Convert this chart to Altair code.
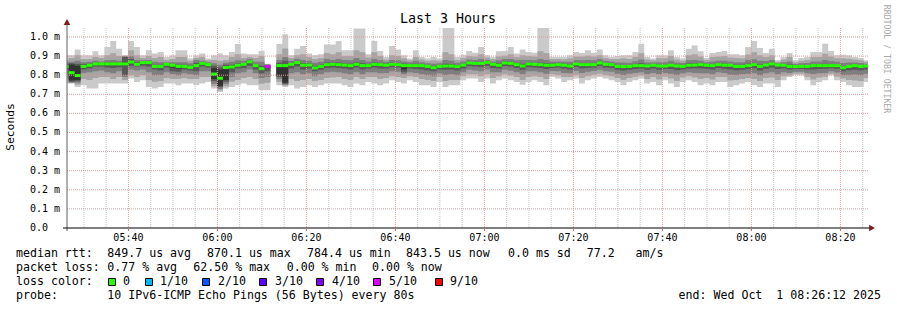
import altair as alt
import pandas as pd

# ---------------- data (values in microseconds, one entry per 80 s step) ----------------
# sorted ping percentiles per step: p1 (min) ... p10 (max); None = no data
p10 = [904,904,935,904,904,925,904,948,979,939, 904,979,948,904,930,913,921,895,904,930,
       930,887,904,913,887,904,913,904,921,963, 913,909,909,927,860,None,963,1014,904,939,
       953,913,904,909,960,960,979,930,930,1044, 1044,909,979,927,895,953,934,904,887,930,
       895,887,895,887,1047,1047,895,907,927,918, 948,904,895,925,927,948,913,934,921,918,
       1047,1047,895,895,895,904,921,916,930,918, 935,904,895,900,904,904,921,965,895,887,
       904,904,930,895,887,939,956,925,890,916, 921,927,909,909,904,948,979,942,916,939,
       878,895,916,878,890,895,921,921,965,927, 904,907,904,895,890,878]
p9 = [880,890,905,885,885,895,890,905,915,900, 902,930,905,890,900,890,895,880,885,895,
      895,875,890,895,878,880,875,880,895,910, 890,895,890,900,858,None,910,940,890,905,
      910,895,885,890,915,910,920,900,900,930, 920,893,920,900,882,905,900,888,878,895,
      882,875,878,875,920,910,880,890,900,898, 910,892,885,898,902,910,895,905,900,898,
      925,915,885,885,883,888,898,898,902,898, 905,890,885,885,888,885,895,915,882,878,
      888,888,900,882,876,905,910,898,880,895, 898,900,892,890,888,908,920,905,895,905,
      870,882,895,868,876,880,895,895,912,898, 888,888,886,882,878,870]
p8 = [866,870,875,868,870,875,872,878,880,875, 900,900,880,878,880,870,868,868,868,868,
      868,862,880,875,868,862,855,865,870,878, 875,885,870,870,856,None,880,895,875,885,
      880,875,865,870,885,880,885,880,878,890, 880,872,885,878,870,880,878,872,868,875,
      868,862,860,862,880,875,865,872,882,880, 885,880,872,878,885,885,878,880,880,878,
      885,880,872,872,870,870,880,878,880,878, 885,875,872,866,866,865,873,882,866,866,
      868,868,875,866,864,878,880,876,868,872, 876,876,872,868,868,880,884,876,874,880,
      862,868,872,858,862,864,872,872,880,874, 870,864,866,866,864,860]
p7 = [858,862,860,858,860,865,864,866,866,865, 895,885,868,870,870,855,855,862,858,855,
      854,850,865,866,860,850,840,855,855,862, 864,875,858,850,850,None,865,875,865,872,
      862,862,850,856,866,865,866,862,860,868, 862,858,866,864,860,866,864,860,858,860,
      857,852,848,852,860,858,853,860,870,868, 870,872,862,862,872,870,864,860,866,864,
      865,862,860,862,860,857,866,863,864,863, 870,863,862,853,852,853,858,862,855,857,
      855,855,860,855,852,862,863,862,858,858, 862,860,859,854,854,860,864,856,860,866,
      857,858,856,850,852,853,858,858,860,858, 857,848,853,855,852,852]
p6 = [850,856,850,850,855,861,861,861,861,861, 865,872,860,868,868,849,849,859,854,849,
      849,843,853,864,857,838,830,848,846,855, 859,872,852,837,847,None,852,852,859,868,
      855,856,841,849,858,860,858,856,853,860, 853,852,859,858,854,859,858,853,852,852,
      852,848,841,848,850,850,847,855,866,864, 864,869,859,854,866,864,857,850,861,859,
      857,854,854,857,854,850,861,857,857,857, 866,859,857,848,847,848,852,852,850,854,
      850,850,854,850,848,854,856,857,854,852, 857,854,854,848,848,852,857,848,855,861,
      855,854,848,847,848,848,852,852,852,852, 852,841,848,852,848,850]
p5 = [842,772,775,842,848,856,856,856,856,856, 852,865,854,862,862,843,843,855,840,835,
      843,838,845,860,852,780,745,775,835,848, 853,866,846,830,843,None,800,760,854,862,
      848,850,835,843,852,854,852,850,847,854, 847,847,854,852,849,854,852,830,847,847,
      847,843,836,843,845,845,842,850,861,859, 859,864,854,849,861,859,852,845,856,854,
      852,849,849,852,849,845,856,852,852,852, 861,854,852,843,842,843,847,847,845,849,
      845,845,849,845,843,849,850,852,849,847, 852,849,849,843,843,847,852,843,850,856,
      850,849,843,842,843,843,847,847,847,847, 847,836,843,847,843,845]
p4 = [830,766,768,830,835,845,845,840,838,842, 800,850,845,850,845,830,825,840,820,818,
      830,825,820,845,840,770,738,765,815,835, 838,850,830,810,820,None,790,755,835,845,
      830,835,820,828,838,840,838,835,830,840, 830,835,840,835,835,842,840,815,835,832,
      830,825,820,830,828,830,825,835,848,845, 843,850,838,835,848,845,838,828,842,840,
      838,832,838,840,835,830,843,836,838,840, 848,840,838,828,825,828,832,835,828,835,
      828,832,832,826,830,835,836,835,834,830, 838,834,830,826,828,832,836,824,834,840,
      832,836,830,832,833,830,830,832,834,836, 834,820,826,828,826,830]
p3 = [800,762,760,812,815,820,825,815,810,820, 790,830,825,830,815,800,800,815,805,800,
      810,805,800,820,820,755,728,755,790,810, 815,830,810,785,790,None,780,750,810,815,
      805,810,795,805,815,818,815,810,805,815, 805,815,815,810,812,820,818,805,815,812,
      805,800,795,810,800,805,800,815,828,825, 820,830,815,815,828,823,815,805,820,820,
      815,808,822,820,812,810,822,812,818,822, 828,820,818,808,800,808,812,815,805,812,
      805,812,808,800,810,815,812,810,810,805, 815,812,802,800,805,808,810,798,810,815,
      805,815,812,818,818,810,805,810,812,820, 814,800,800,802,800,808]
p2 = [780,759,750,780,775,785,790,790,780,790, 775,800,790,800,775,765,770,785,780,780,
      785,780,780,790,790,742,720,742,765,775, 785,790,780,755,760,None,765,745,780,770,
      775,780,770,775,785,788,790,780,775,790, 780,790,790,780,785,795,790,785,795,790,
      780,775,770,790,770,775,775,795,805,805, 795,805,785,795,805,798,790,775,790,795,
      790,780,805,800,790,790,800,785,795,802, 808,800,795,785,775,785,792,798,780,790,
      778,792,782,770,788,795,788,780,785,778, 790,790,772,775,780,785,780,770,785,788,
      775,795,798,808,808,790,778,788,792,808, 792,782,775,772,770,785]
p1 = [756,756,738,747,730,730,756,756,756,756, 756,782,764,773,738,730,738,756,756,747,
      756,756,747,756,764,730,712,730,738,747, 756,747,747,721,721,None,747,738,747,730,
      738,747,738,747,756,756,756,747,738,756, 747,764,756,747,756,773,764,756,773,764,
      747,747,738,764,738,747,747,773,782,782, 764,782,756,773,782,773,764,750,764,773,
      764,747,791,782,764,773,782,756,773,782, 791,782,773,764,747,764,773,782,756,764,
      747,773,756,738,764,773,764,747,756,747, 764,764,738,747,756,764,747,738,756,756,
      738,773,791,799,799,773,747,764,773,799, 773,764,747,738,738,764]
median = [846,813,798,846,852,859,859,859,859,859, 859,869,857,866,866,846,846,857,852,846,
          846,841,850,862,855,806,784,840,843,852, 857,870,850,834,845,None,850,850,857,866,
          852,853,838,846,855,857,855,853,850,857, 850,850,857,855,852,857,855,850,850,850,
          850,846,839,846,848,848,845,853,864,862, 862,867,857,852,864,862,855,848,859,857,
          855,852,852,855,852,848,859,855,855,855, 864,857,855,846,845,846,850,850,848,852,
          848,848,852,848,846,852,853,855,852,850, 855,852,852,846,846,850,855,846,853,859,
          853,852,846,845,846,846,850,850,850,850, 850,839,846,850,846,848]
# lost pings (out of 10) per step
loss = [0,0,0,0,0,0,0,0,0,0, 0,0,0,0,0,0,0,0,0,0, 0,0,0,0,0,0,0,0,0,0, 0,0,0,0,5,10,0,0,0,0,
        0,0,0,0,0,0,0,0,0,0, 0,0,0,0,0,0,0,0,0,0, 0,0,0,0,0,0,0,0,0,0, 0,0,0,0,0,0,0,0,0,0,
        0,0,0,0,0,0,0,0,0,0, 0,0,0,0,0,0,0,0,0,0, 0,0,0,0,0,0,0,0,0,0, 0,0,0,0,0,0,0,0,0,0,
        0,0,0,0,0,0,0,0,0,0, 0,0,0,0,0,0]

STEP_S = 80
FIRST_STEP_S = -57          # first step starts 57 s before the window start 05:26:12
WINDOW_START = "05:26:12"
WINDOW_MIN = 180

major_labels = ["05:40", "06:00", "06:20", "06:40", "07:00", "07:20", "07:40", "08:00", "08:20"]
minor_labels = ["05:30", "05:35", "05:45", "05:50", "05:55", "06:05", "06:10", "06:15",
                "06:25", "06:30", "06:35", "06:45", "06:50", "06:55", "07:05", "07:10", "07:15",
                "07:25", "07:30", "07:35", "07:45", "07:50", "07:55", "08:05", "08:10", "08:15",
                "08:25"]
y_ticks = [0.0, 0.1, 0.2, 0.3, 0.4, 0.5, 0.6, 0.7, 0.8, 0.9, 1.0]
y_tick_labels = ["0.0", "0.1 m", "0.2 m", "0.3 m", "0.4 m", "0.5 m", "0.6 m", "0.7 m",
                 "0.8 m", "0.9 m", "1.0 m"]

loss_names = ["0", "1/10", "2/10", "3/10", "4/10", "5/10", "9/10"]
loss_colors = ["#26ff00", "#00b8ff", "#0059ff", "#5e00ff", "#7e00ff", "#dd00ff", "#ff0000"]

# legend rows: list of (text chunk, left x in px)
legend_rows = [
    [("median rtt:", 16), ("849.7 us avg", 107.3), ("870.1 us max", 207), ("784.4 us min", 307),
     ("843.5 us now", 406), ("0.0 ms sd", 508), ("77.2   am/s", 586.7)],
    [("packet loss:", 16), ("0.77 % avg", 107.3), ("62.50 % max", 193.3), ("0.00 % min", 286.7),
     ("0.00 % now", 372)],
    [("loss color:", 16)],
    [("probe:", 16), ("10 IPv6-ICMP Echo Pings (56 Bytes) every 80s", 107.3)],
]
legend_row_y = [254, 268, 282, 296]
end_text = "end: Wed Oct  1 08:26:12 2025"
title_text = "Last 3 Hours"
y_title = "Seconds"
credit = "RRDTOOL / TOBI OETIKER"

# ---------------- helpers ----------------
NBSP = "\u00a0"


def keep_spaces(s):
    return s.replace(" ", NBSP)


def hms_to_min(s):
    parts = [int(v) for v in s.split(":")]
    while len(parts) < 3:
        parts.append(0)
    return parts[0] * 60 + parts[1] + parts[2] / 60.0


T0 = hms_to_min(WINDOW_START)
N = len(median)

W, H = 801, 200
PAD_L, PAD_T = 67, 28
FONT = "DejaVu Sans Mono"
LEG_FS = 11.6

xs = alt.Scale(domain=[0, WINDOW_MIN], nice=False, zero=False)
ys = alt.Scale(domain=[0, 1.047], nice=False, zero=False)


def step_x0(k):
    return (FIRST_STEP_S + k * STEP_S) / 60.0


def band_frame(lo, hi):
    rows = []
    seg = 0
    for k in range(N):
        if lo[k] is None:
            seg += 1
            continue
        rows.append(dict(x=step_x0(k), lo=lo[k] / 1000, hi=hi[k] / 1000, seg=seg))
        if k == N - 1 or lo[k + 1] is None:
            rows.append(dict(x=step_x0(k + 1), lo=lo[k] / 1000, hi=hi[k] / 1000, seg=seg))
    return pd.DataFrame(rows)


bands = [(p1, p10, "#cacaca"), (p2, p9, "#a4a4a4"), (p3, p8, "#7e7e7e"),
         (p4, p7, "#585858"), (p5, p6, "#323232")]

layers = []

# grid
minor_df = pd.DataFrame({"m": [hms_to_min(t) - T0 for t in minor_labels]})
major_df = pd.DataFrame({"m": [hms_to_min(t) - T0 for t in major_labels], "lab": major_labels})
ygrid_df = pd.DataFrame({"v": y_ticks[1:]})

layers.append(alt.Chart(minor_df).mark_rule(color="#c4c4c4", strokeDash=[1, 1], strokeWidth=1)
              .encode(x=alt.X("m:Q", scale=xs, axis=None)))

# smoke bands
for lo, hi, col in bands:
    df = band_frame(lo, hi)
    layers.append(
        alt.Chart(df).mark_area(interpolate="step-after", color=col, clip=True)
        .encode(x=alt.X("x:Q", scale=xs, axis=None),
                y=alt.Y("lo:Q", scale=ys, axis=None),
                y2="hi:Q",
                detail="seg:N"))

# grid lines over the smoke
layers.append(alt.Chart(major_df).mark_rule(color="#e39a9a", strokeDash=[1, 1], strokeWidth=1)
              .encode(x=alt.X("m:Q", scale=xs, axis=None)))
layers.append(alt.Chart(ygrid_df).mark_rule(color="#e39a9a", strokeDash=[1, 1], strokeWidth=1)
              .encode(y=alt.Y("v:Q", scale=ys, axis=None)))


# median with loss colour
def loss_color(l):
    if l <= 0:
        return loss_colors[0]
    if l >= 9:
        return loss_colors[6]
    return loss_colors[min(l, 5)]


med_rows = []
for k in range(N):
    if median[k] is None:
        continue
    med_rows.append(dict(x0=step_x0(k), x1=step_x0(k + 1), med=median[k] / 1000,
                         col=loss_color(loss[k])))
med_df = pd.DataFrame(med_rows)
layers.append(alt.Chart(med_df).mark_rule(strokeWidth=3, clip=True)
              .encode(x=alt.X("x0:Q", scale=xs, axis=None), x2="x1:Q",
                      y=alt.Y("med:Q", scale=ys, axis=None),
                      color=alt.Color("col:N", scale=None)))

# axes
one = pd.DataFrame({"a": [0]})
layers.append(alt.Chart(one).mark_rule(color="#606060", strokeWidth=1)
              .encode(x=alt.value(0), y=alt.value(H + 3), y2=alt.value(-4)))
layers.append(alt.Chart(one).mark_rule(color="#000000", strokeWidth=1)
              .encode(x=alt.value(-4), x2=alt.value(W + 3), y=alt.value(H)))
layers.append(alt.Chart(one).mark_point(shape="triangle-up", filled=True, size=45,
                                        color="#7f1d1d", opacity=1)
              .encode(x=alt.value(0), y=alt.value(-6)))
layers.append(alt.Chart(one).mark_point(shape="triangle-right", filled=True, size=45,
                                        color="#7f1d1d", opacity=1)
              .encode(x=alt.value(W + 4), y=alt.value(H)))
# tick marks below axis
layers.append(alt.Chart(major_df).mark_rule(color="#d06060", strokeWidth=1)
              .encode(x=alt.X("m:Q", scale=xs, axis=None), y=alt.value(H), y2=alt.value(H + 3)))

# tick labels
layers.append(alt.Chart(major_df).mark_text(font=FONT, fontSize=10, align="center",
                                            baseline="middle", color="#000000")
              .encode(x=alt.X("m:Q", scale=xs, axis=None), y=alt.value(H + 10), text="lab:N"))
ylab_df = pd.DataFrame({"v": y_ticks, "lab": y_tick_labels})
layers.append(alt.Chart(ylab_df).mark_text(font=FONT, fontSize=10, align="left",
                                           baseline="middle", color="#000000")
              .encode(x=alt.value(30 - PAD_L), y=alt.Y("v:Q", scale=ys, axis=None), text="lab:N"))

# titles
layers.append(alt.Chart(pd.DataFrame({"t": [title_text]}))
              .mark_text(font=FONT, fontSize=13.3, align="center", baseline="middle", color="#000")
              .encode(x=alt.value(448 - PAD_L), y=alt.value(19 - PAD_T), text="t:N"))
layers.append(alt.Chart(pd.DataFrame({"t": [y_title]}))
              .mark_text(font=FONT, fontSize=11.3, align="center", baseline="middle", angle=270,
                         color="#000")
              .encode(x=alt.value(11 - PAD_L), y=alt.value(127 - PAD_T), text="t:N"))
layers.append(alt.Chart(pd.DataFrame({"t": [credit]}))
              .mark_text(font=FONT, fontSize=8.2, align="center", baseline="middle", angle=90,
                         color="#a8a8a8")
              .encode(x=alt.value(886 - PAD_L), y=alt.value(59 - PAD_T), text="t:N"))

# legend text chunks
leg_rows = []
for row, yv in zip(legend_rows, legend_row_y):
    for txt, xv in row:
        leg_rows.append(dict(t=keep_spaces(txt), xx=xv - PAD_L, yy=yv - PAD_T))
leg_df = pd.DataFrame(leg_rows)
layers.append(alt.Chart(leg_df).mark_text(font=FONT, fontSize=LEG_FS, align="left",
                                          baseline="middle", color="#000")
              .encode(x=alt.X("xx:Q", scale=None), y=alt.Y("yy:Q", scale=None), text="t:N"))
layers.append(alt.Chart(pd.DataFrame({"t": [keep_spaces(end_text)]}))
              .mark_text(font=FONT, fontSize=LEG_FS, align="right", baseline="middle", color="#000")
              .encode(x=alt.value(881 - PAD_L), y=alt.value(296 - PAD_T), text="t:N"))

# loss colour boxes
box_x = [112, 149, 206, 263, 320, 377, 439]
label_x = [123, 160, 218, 275, 332, 389, 450]
box_df = pd.DataFrame({"bx": [b - PAD_L for b in box_x], "lx": [l - PAD_L for l in label_x],
                       "name": loss_names, "col": loss_colors})
layers.append(alt.Chart(box_df).mark_square(size=49, stroke="#000", strokeWidth=1, opacity=1)
              .encode(x=alt.X("bx:Q", scale=None), y=alt.value(282 - PAD_T),
                      fill=alt.Fill("col:N", scale=None)))
layers.append(alt.Chart(box_df).mark_text(font=FONT, fontSize=LEG_FS, align="left",
                                          baseline="middle", color="#000")
              .encode(x=alt.X("lx:Q", scale=None), y=alt.value(282 - PAD_T), text="name:N"))

chart = alt.layer(*layers).properties(
    width=W, height=H,
    autosize=alt.AutoSizeParams(type="none"),
    padding={"left": PAD_L, "top": PAD_T, "right": 897 - PAD_L - W, "bottom": 310 - PAD_T - H},
    background="#ffffff",
).configure_view(stroke=None)

chart.save("out.html", embed_options={"renderer": "svg", "actions": False})
